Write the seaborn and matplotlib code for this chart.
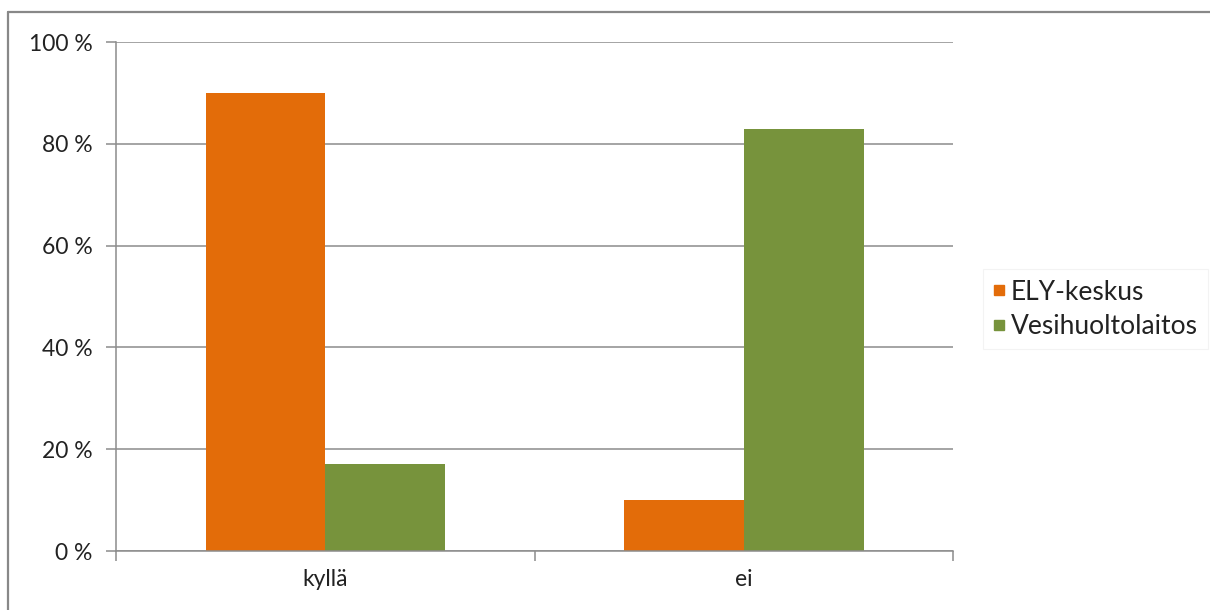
import pandas as pd
import matplotlib.pyplot as plt
import seaborn as sns
from matplotlib.lines import Line2D
from matplotlib.ticker import FuncFormatter

# Data
categories = ["kyllä", "ei"]
ely_keskus = [90, 10]
vesihuoltolaitos = [17, 83]
series_names = ["ELY-keskus", "Vesihuoltolaitos"]
y_ticks = [0, 20, 40, 60, 80, 100]

df = pd.DataFrame({
    "vastaus": categories * 2,
    "sarja": [series_names[0]] * 2 + [series_names[1]] * 2,
    "osuus": ely_keskus + vesihuoltolaitos,
})

sns.set_style("white")
plt.rcParams['font.family'] = ['Lato', 'DejaVu Sans']

grid_color = "#8c8c8c"
text_color = "#222222"
colors = ["#E36C09", "#77933C"]

fig = plt.figure(figsize=(12.1, 6.1), dpi=100)
ax = fig.add_axes([0.0959, 0.0967, 0.692, 0.8344])

sns.barplot(data=df, x="vastaus", y="osuus", hue="sarja", order=categories,
            hue_order=series_names, palette=colors, width=0.572, gap=0,
            saturation=1, linewidth=0, ax=ax, legend=True)

ax.set_xlim(-0.5, 1.5)
ax.set_ylim(0, 100)
ax.set_yticks(y_ticks)
ax.yaxis.set_major_formatter(FuncFormatter(lambda v, p: f"{v:.0f} %"))
ax.yaxis.grid(True, color=grid_color, linewidth=1.1)
ax.set_axisbelow(True)

# category boundaries as ticks, labels at category centres
ax.set_xticks([-0.5, 0.5, 1.5])
ax.set_xticklabels([])
ax.set_xticks([0, 1], minor=True)
ax.set_xticklabels(categories, minor=True)
ax.tick_params(axis="x", which="major", direction="out", length=7,
               width=1.1, color=grid_color, bottom=True)
ax.tick_params(axis="x", which="minor", length=0, pad=13, labelsize=16.5,
               labelcolor=text_color)
ax.tick_params(axis="y", direction="out", length=7, width=1.1,
               color=grid_color, left=True, pad=10, labelsize=16.5,
               labelcolor=text_color)

ax.set_xlabel("")
ax.set_ylabel("")
for side in ["top", "right"]:
    ax.spines[side].set_visible(False)
for side in ["left", "bottom"]:
    ax.spines[side].set_color(grid_color)
    ax.spines[side].set_linewidth(1.1)

# legend to the right of the plot
handles, labels = ax.get_legend_handles_labels()
ax.get_legend().remove()
leg_handles = [Line2D([0], [0], marker="s", linestyle="", markersize=7,
                      markerfacecolor=c, markeredgecolor=c) for c in colors]
leg = fig.legend(leg_handles, labels, loc="center left",
                 bbox_to_anchor=(0.808, 0.493), fontsize=19,
                 frameon=True, handlelength=0.4, handletextpad=0.25,
                 labelspacing=0.35, borderpad=0.4, borderaxespad=0.2,
                 fancybox=False)
leg.get_frame().set_edgecolor("#f0f0f0")
leg.get_frame().set_linewidth(0.8)
for t in leg.get_texts():
    t.set_color(text_color)

# chart border (top and left edges visible in the source image)
fig.add_artist(Line2D([0.0066, 1.0], [0.980, 0.980], color="#888888",
                      linewidth=1.6, transform=fig.transFigure))
fig.add_artist(Line2D([0.0066, 0.0066], [0.0, 0.980], color="#888888",
                      linewidth=1.6, transform=fig.transFigure))

fig.savefig("out.png", dpi=100)
